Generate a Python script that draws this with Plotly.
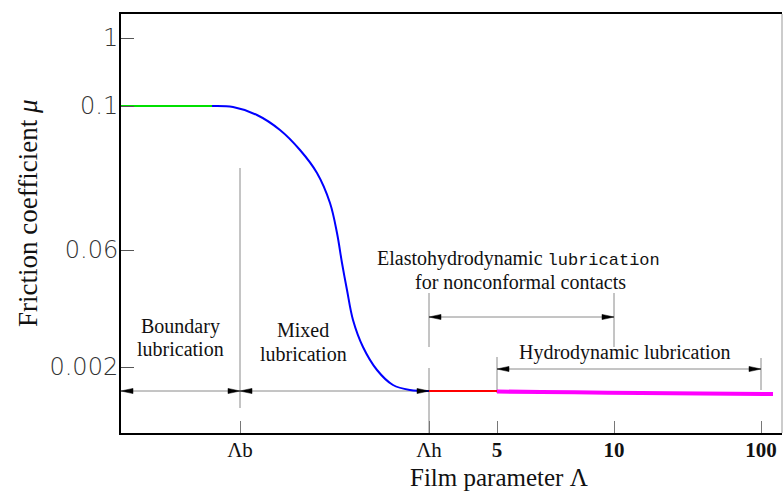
import plotly.graph_objects as go

# ---------------- data (schematic axis units) ----------------
x_tick_pos = [119, 308, 376, 493, 640]
x_tick_text = ["Λb", "Λh", "<b>5</b>", "<b>10</b>", "<b>100</b>"]
y_tick_pos = [66, 183, 327, 395]
y_tick_text = ["0.002", "0.06", "0.1", "1"]

boundary_x = [0, 91]
boundary_mu = [327, 327]
mixed_x = [91, 112, 136, 159, 179, 196, 209, 216, 221, 226, 232, 242, 256, 272, 289, 308]
mixed_mu = [327, 326, 318, 303, 283, 260, 230, 200, 170, 143, 113, 86, 63, 48, 43, 42]
ehl_x = [308, 376]
ehl_mu = [42, 42]
hydro_x = [376, 420, 470, 520, 580, 652]
hydro_mu = [41.5, 41, 40.5, 40, 39.5, 39]

X_RANGE = [0, 661]
Y_RANGE = [0, 419]

LB, LH, X5, X10, X100 = x_tick_pos

fig = go.Figure()

seg_style = [
    (boundary_x, boundary_mu, "#00e000", 2),
    (mixed_x, mixed_mu, "#0000ff", 2),
    (ehl_x, ehl_mu, "#ff0000", 2),
    (hydro_x, hydro_mu, "#ff00ff", 4),
]
for xs, ys, col, w in seg_style:
    fig.add_trace(go.Scatter(x=xs, y=ys, mode="lines", line=dict(color=col, width=w, shape="spline"),
                             showlegend=False, hoverinfo="skip"))

GRAY = "#8a8a8a"
shapes = []

def vline(x, y0, y1):
    shapes.append(dict(type="line", xref="x", yref="y", x0=x, x1=x, y0=y0, y1=y1,
                       line=dict(color=GRAY, width=1), layer="below"))

def hline(x0, x1, y):
    shapes.append(dict(type="line", xref="x", yref="y", x0=x0, x1=x1, y0=y, y1=y,
                       line=dict(color=GRAY, width=1), layer="below"))

def head(x, y, direction):
    L, H = 12, 2.6
    if direction > 0:
        path = f"M0,0 L{-L},{-H} L{-L},{H} Z"
    else:
        path = f"M0,0 L{L},{-H} L{L},{H} Z"
    shapes.append(dict(type="path", xref="x", yref="y", xsizemode="pixel", ysizemode="pixel",
                       xanchor=x, yanchor=y, path=path, fillcolor="black",
                       line=dict(color="black", width=0.5)))

def arrow(x0, x1, y):
    hline(x0, x1, y)
    head(x0, y, -1)
    head(x1, y, 1)

# vertical guides
vline(LB, 25, 265)
vline(LH, 86, 140)
vline(LH, 0, 65)
vline(X10, 86, 140)
vline(X5, 40, 76)
vline(X100, 43, 75)

# regime arrows
arrow(0, LB, 42)
arrow(LB, LH, 42)
arrow(LH, X10, 116)
arrow(X5, X100, 64)

# right border
shapes.append(dict(type="line", xref="paper", yref="paper", x0=1, x1=1, y0=0, y1=1,
                   line=dict(color="#999", width=1)))

SERIF = "Liberation Serif"
annotations = []

def label(x, y, text, size=20):
    annotations.append(dict(x=x, y=y, xref="x", yref="y", text=text, showarrow=False,
                            xanchor="center", yanchor="middle",
                            font=dict(family=SERIF, size=size, color="#111")))

label(59, 107, "Boundary")
label(59, 84, "lubrication")
label(182, 103, "Mixed")
label(182, 79, "lubrication")
label(397, 175, "Elastohydrodynamic <span style='font-family:Liberation Mono;font-size:17px'>lubrication</span>")
label(399, 151, "for nonconformal contacts")
label(504, 81, "Hydrodynamic lubrication")

# axis titles
annotations.append(dict(x=0.572, y=0, xref="paper", yref="paper", yshift=-44,
                        text="Film parameter Λ", showarrow=False, xanchor="center", yanchor="middle",
                        font=dict(family=SERIF, size=25, color="#111")))
annotations.append(dict(x=0, y=0.525, xref="paper", yref="paper", xshift=-93,
                        text="Friction coefficient <i>μ</i>", textangle=-90, showarrow=False,
                        xanchor="center", yanchor="middle",
                        font=dict(family=SERIF, size=27, color="#111")))

fig.update_layout(
    width=783, height=491,
    margin=dict(l=121, r=1, t=14, b=58),
    paper_bgcolor="white", plot_bgcolor="white",
    shapes=shapes, annotations=annotations,
    showlegend=False,
)
fig.update_xaxes(range=X_RANGE, tickmode="array", tickvals=x_tick_pos, ticktext=x_tick_text,
                 ticks="inside", ticklen=12, tickcolor="#777", tickwidth=1, ticklabelstandoff=-3,
                 showgrid=False, zeroline=False, showline=True, linecolor="black", linewidth=2,
                 mirror=True, tickfont=dict(family=SERIF, size=21, color="#111"))
fig.update_yaxes(range=Y_RANGE, tickmode="array", tickvals=y_tick_pos, ticktext=y_tick_text,
                 ticks="inside", ticklen=13, tickcolor="#555", tickwidth=1, ticklabelstandoff=-4,
                 showgrid=False, zeroline=False, showline=True, linecolor="black", linewidth=2,
                 mirror=False, tickfont=dict(family="DejaVu Sans", size=24, color="#333", weight=300))

fig.write_html("out.html")
